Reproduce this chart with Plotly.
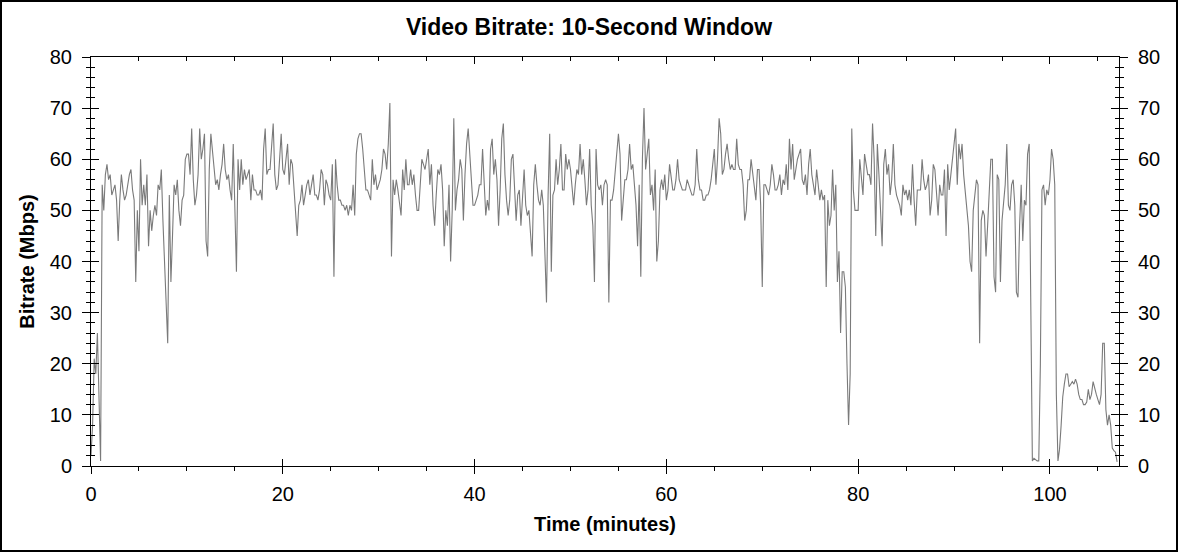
"""
Video bitrate over time, 10-second window (re-drawn with Plotly).
Values read by eye from the original chart, one sample every 10 s.
"""

import plotly.graph_objects as go

SAMPLE_STEP_MIN = 1 / 6  # 10-second window

# Bitrate (Mbps), one list per 10 minutes
BITRATE_00_10 = [2, 8, 21, 18, 26, 14, 1, 55, 50, 57, 59, 56, 57, 53, 54, 55, 52, 44, 52, 57,
                 54, 52, 53, 55, 57, 58, 54, 52, 36, 50, 42, 60, 51, 55, 51, 57, 43, 50, 46, 49,
                 51, 49, 55, 54, 58, 48, 40, 29, 24, 53, 36, 45, 55, 53, 56, 50, 47, 52, 53, 60]
BITRATE_10_20 = [61, 61, 57, 66, 56, 51, 53, 57, 66, 60, 62, 65, 44, 41, 58, 65, 62, 58, 55, 56,
                 54, 57, 59, 63, 58, 56, 57, 54, 52, 63, 50, 38, 60, 54, 60, 55, 58, 56, 57, 58,
                 52, 57, 54, 54, 53, 53, 54, 52, 62, 66, 57, 58, 58, 62, 67, 57, 54, 55, 60, 65]
BITRATE_20_30 = [58, 57, 60, 63, 55, 60, 59, 54, 51, 45, 51, 52, 55, 51, 53, 55, 56, 53, 55, 57,
                 53, 53, 52, 54, 58, 57, 51, 56, 55, 53, 52, 59, 37, 60, 55, 52, 52, 51, 51, 50,
                 51, 49, 51, 50, 55, 49, 61, 64, 65, 65, 62, 57, 54, 54, 53, 52, 60, 55, 57, 54]
BITRATE_30_40 = [55, 56, 58, 62, 61, 58, 63, 71, 41, 56, 53, 56, 54, 51, 49, 58, 54, 60, 55, 55,
                 58, 55, 57, 53, 50, 50, 55, 60, 59, 58, 60, 62, 55, 59, 51, 47, 53, 58, 57, 59,
                 54, 43, 50, 47, 55, 40, 50, 68, 50, 54, 56, 60, 58, 48, 57, 63, 66, 61, 57, 51]
BITRATE_40_50 = [51, 52, 53, 55, 55, 62, 56, 49, 52, 50, 62, 64, 57, 60, 56, 47, 54, 64, 67, 57,
                 52, 49, 52, 60, 61, 55, 48, 53, 54, 47, 54, 58, 51, 49, 50, 45, 41, 55, 59, 55,
                 52, 51, 54, 51, 41, 32, 53, 65, 38, 53, 54, 60, 55, 58, 63, 54, 54, 61, 58, 60]
BITRATE_50_60 = [58, 54, 51, 55, 58, 57, 63, 57, 60, 56, 51, 54, 62, 51, 47, 36, 62, 55, 54, 55,
                 51, 55, 56, 55, 32, 52, 52, 54, 58, 62, 65, 61, 48, 52, 56, 56, 58, 63, 58, 59,
                 55, 51, 43, 55, 37, 60, 70, 58, 61, 64, 53, 55, 50, 58, 40, 44, 54, 56, 54, 57]
BITRATE_60_70 = [52, 54, 59, 56, 54, 54, 56, 60, 56, 55, 54, 54, 54, 56, 55, 54, 53, 53, 55, 62,
                 56, 54, 54, 52, 52, 53, 53, 54, 56, 59, 62, 55, 60, 68, 65, 57, 58, 61, 63, 60,
                 58, 59, 58, 58, 64, 59, 58, 58, 55, 48, 50, 56, 56, 60, 57, 54, 52, 58, 58, 51]
BITRATE_70_80 = [35, 55, 55, 54, 53, 55, 59, 57, 54, 54, 55, 57, 53, 56, 55, 59, 54, 64, 58, 63,
                 56, 58, 60, 61, 62, 56, 55, 57, 53, 59, 62, 57, 55, 53, 58, 55, 52, 54, 52, 53,
                 35, 52, 47, 49, 58, 50, 55, 36, 42, 26, 38, 38, 35, 20, 8, 18, 66, 54, 50, 50]
BITRATE_80_90 = [50, 60, 57, 53, 61, 59, 57, 57, 55, 67, 60, 45, 63, 57, 50, 43, 59, 62, 57, 59,
                 53, 56, 63, 55, 53, 52, 51, 49, 55, 53, 54, 52, 54, 51, 59, 52, 47, 54, 54, 54,
                 60, 56, 54, 55, 57, 49, 52, 59, 58, 53, 49, 55, 53, 53, 58, 45, 59, 54, 57, 61]
BITRATE_90_100 = [64, 66, 55, 63, 60, 63, 57, 54, 51, 47, 40, 38, 50, 53, 56, 55, 24, 48, 50, 49,
                  41, 47, 54, 60, 60, 37, 34, 57, 56, 36, 48, 52, 55, 63, 51, 50, 55, 56, 51, 34,
                  33, 47, 55, 44, 52, 51, 61, 63, 36, 1, 1.5, 1.2, 1, 1, 20, 54, 55, 51, 54, 53]
BITRATE_100_END = [56, 62, 60, 55, 14, 1, 3.3, 8, 13.5, 16, 18, 18, 15.5, 16, 16.5, 16, 17, 16,
                   14, 13, 13, 12, 12, 12.5, 15, 13, 14, 16.5, 15, 14, 13, 12, 14, 24, 24, 11,
                   8, 10, 8, 3.5, 3, 2.7, 0.8]

bitrate = (BITRATE_00_10 + BITRATE_10_20 + BITRATE_20_30 + BITRATE_30_40 + BITRATE_40_50
           + BITRATE_50_60 + BITRATE_60_70 + BITRATE_70_80 + BITRATE_80_90 + BITRATE_90_100
           + BITRATE_100_END)
minutes = [i * SAMPLE_STEP_MIN for i in range(len(bitrate))]

X_RANGE = [0, 107.2]
Y_RANGE = [0, 80]

W, H = 1178, 552
M = dict(l=91, r=59, t=57, b=86)
FONT = 'Liberation Sans, Arial, sans-serif'

fig = go.Figure()

fig.add_trace(go.Scatter(
    x=minutes, y=bitrate, mode='lines',
    line=dict(color='#7a7a7a', width=1.1),
    hovertemplate='%{x:.2f} min<br>%{y:.1f} Mbps<extra></extra>',
    showlegend=False,
))
# empty traces so the extra tick axes get drawn
for xa, ya in [('x2', 'y2'), ('x3', 'y3'), ('x3', 'y4')]:
    fig.add_trace(go.Scatter(x=[], y=[], xaxis=xa, yaxis=ya,
                             showlegend=False, hoverinfo='skip'))

tick = dict(tickcolor='black', tickwidth=1, showgrid=False, zeroline=False, automargin=False)

fig.update_layout(
    width=W, height=H, margin=M,
    paper_bgcolor='white', plot_bgcolor='white',
    font=dict(family=FONT, color='black'),
    title=dict(text='<b>Video Bitrate: 10-Second Window</b>', x=0.5, xanchor='center',
               y=1 - 27 / H, yanchor='middle', font=dict(size=23)),
    # bottom: labels + ticks outside
    xaxis=dict(range=X_RANGE, dtick=20, ticks='outside', ticklen=7, ticklabelstandoff=3,
               showline=True, linecolor='black', linewidth=1,
               tickfont=dict(size=20),
               minor=dict(dtick=5, ticks='outside', ticklen=4, tickcolor='black'),
               title=dict(text='<b>Time (minutes)</b>', font=dict(size=20), standoff=12),
               **tick),
    # bottom: major ticks inside
    xaxis2=dict(range=X_RANGE, overlaying='x', side='bottom', dtick=20, ticks='inside',
                ticklen=7, showticklabels=False, showline=False, **tick),
    # top frame line with inward ticks
    xaxis3=dict(range=X_RANGE, overlaying='x', side='top', dtick=20, ticks='inside',
                ticklen=7, showticklabels=False, showline=True, linecolor='black',
                minor=dict(dtick=5, ticks='inside', ticklen=4, tickcolor='black'),
                **tick),
    # left: labels + ticks outside
    yaxis=dict(range=Y_RANGE, dtick=10, ticks='outside', ticklen=8, ticklabelstandoff=6,
               showline=True, linecolor='black', linewidth=1,
               tickfont=dict(size=20),
               minor=dict(dtick=2, ticks='outside', ticklen=4, tickcolor='black'),
               title=dict(text='<b>Bitrate (Mbps)</b>', font=dict(size=20), standoff=9),
               **tick),
    # left: ticks inside
    yaxis2=dict(range=Y_RANGE, overlaying='y', side='left', dtick=10, ticks='inside',
                ticklen=8, showticklabels=False, showline=False,
                minor=dict(dtick=2, ticks='inside', ticklen=4, tickcolor='black'),
                **tick),
    # right: labels + ticks outside
    yaxis3=dict(range=Y_RANGE, overlaying='y', side='right', dtick=10, ticks='outside',
                ticklen=8, ticklabelstandoff=6, showline=True, linecolor='black', linewidth=1,
                tickfont=dict(size=20),
                minor=dict(dtick=2, ticks='outside', ticklen=4, tickcolor='black'),
                **tick),
    # right: ticks inside
    yaxis4=dict(range=Y_RANGE, overlaying='y', side='right', dtick=10, ticks='inside',
                ticklen=8, showticklabels=False, showline=False,
                minor=dict(dtick=2, ticks='inside', ticklen=4, tickcolor='black'),
                **tick),
)

# thin frame round the whole picture
pw = W - M['l'] - M['r']
ph = H - M['t'] - M['b']
fig.add_shape(type='rect', xref='paper', yref='paper',
              x0=(1 - M['l']) / pw, x1=(W - 1 - M['l']) / pw,
              y0=-(M['b'] - 1) / ph, y1=(H - 1 - M['b']) / ph,
              line=dict(color='black', width=2), layer='above')

# page body has an 8px default margin; drop it so the figure sits at 0,0
fig.write_html('out.html', config={'displayModeBar': False},
               post_script="document.body.style.margin='0';")
